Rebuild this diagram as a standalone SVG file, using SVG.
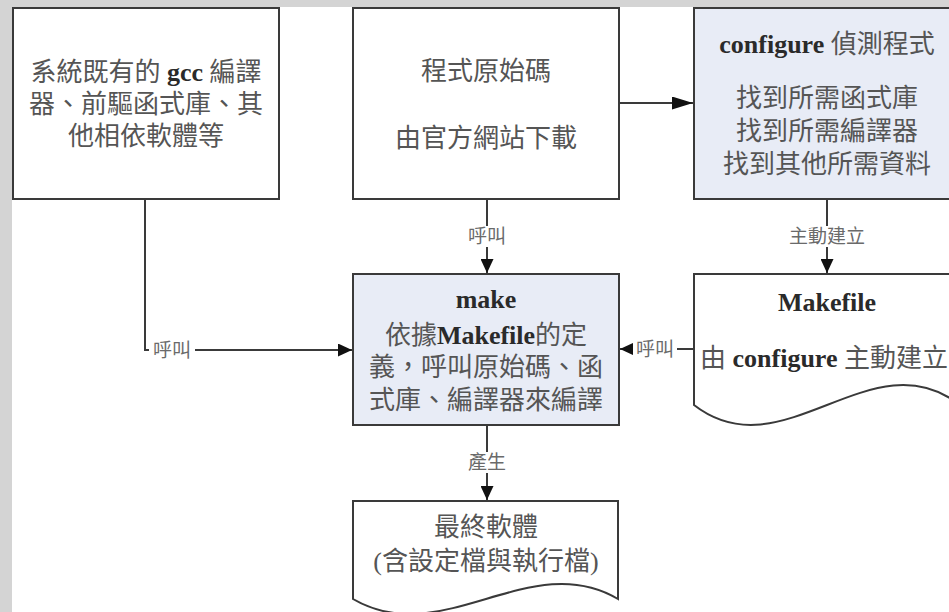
<svg xmlns="http://www.w3.org/2000/svg" width="949" height="612" viewBox="0 0 949 612">
<defs>
<style>
.box{fill:#ffffff;stroke:#3a3a3a;stroke-width:2}
.hl{fill:#e8ecf6}
.t{font-family:'Liberation Serif','Noto Sans CJK TC',serif;font-size:26px;fill:#555555;text-anchor:middle}
.b{font-weight:bold;fill:#2a2a2a}
.lbl{font-family:'Liberation Serif','Noto Sans CJK TC',serif;font-size:19px;fill:#6a6a6a;text-anchor:middle}
.conn{fill:none;stroke:#3a3a3a;stroke-width:2}
.lbg{fill:#ffffff}
</style>
<marker id="arr" viewBox="0 0 14 13" refX="14" refY="6.5" markerWidth="14" markerHeight="13" markerUnits="userSpaceOnUse" orient="auto">
<path d="M0,0 L14,6.5 L0,13 Z" fill="#111"/>
</marker>
<marker id="arrL" viewBox="0 0 21 13" refX="21" refY="6.5" markerWidth="21" markerHeight="13" markerUnits="userSpaceOnUse" orient="auto">
<path d="M0,0 L21,6.5 L0,13 Z" fill="#111"/>
</marker>
</defs>
<rect x="0" y="0" width="949" height="612" fill="#d4d4d4"/>
<rect x="12" y="7" width="937" height="605" fill="#ffffff"/>

<g id="connectors">
<path class="conn" d="M145,199 V350 H352" marker-end="url(#arr)"/>
<path class="conn" d="M487,199 V273" marker-end="url(#arr)"/>
<path class="conn" d="M619,103 H693" marker-end="url(#arrL)"/>
<path class="conn" d="M827,199 V273" marker-end="url(#arr)"/>
<path class="conn" d="M694,349 H620" marker-end="url(#arr)"/>
<path class="conn" d="M487,425 V500" marker-end="url(#arr)"/>
<rect class="lbg" x="465" y="226" width="44" height="21"/>
<text class="lbl" x="487" y="243">呼叫</text>
<rect class="lbg" x="785" y="226" width="84" height="21"/>
<text class="lbl" x="827" y="243">主動建立</text>
<rect class="lbg" x="149" y="339" width="46" height="21"/>
<text class="lbl" x="172" y="357">呼叫</text>
<rect class="lbg" x="633" y="338" width="44" height="21"/>
<text class="lbl" x="655" y="356">呼叫</text>
<rect class="lbg" x="465" y="452" width="44" height="21"/>
<text class="lbl" x="487" y="469">產生</text>
</g>

<g id="existing">
<rect class="box" x="13" y="8" width="266" height="191"/>
<text class="t" x="146" y="81">系統既有的 <tspan class="b">gcc</tspan> 編譯</text>
<text class="t" x="146" y="113">器、前驅函式庫、其</text>
<text class="t" x="146" y="145">他相依軟體等</text>
</g>

<g id="source">
<rect class="box" x="353" y="8" width="266" height="191"/>
<text class="t" x="486" y="80">程式原始碼</text>
<text class="t" x="486" y="147">由官方網站下載</text>
</g>

<g id="configure">
<rect class="box hl" x="694" y="8" width="266" height="191"/>
<text class="t" x="827" y="53"><tspan class="b">configure</tspan> 偵測程式</text>
<text class="t" x="827" y="107">找到所需函式庫</text>
<text class="t" x="827" y="140">找到所需編譯器</text>
<text class="t" x="827" y="173">找到其他所需資料</text>
</g>

<g id="make">
<rect class="box hl" x="353" y="274" width="266" height="151"/>
<text class="t" x="486" y="308"><tspan class="b">make</tspan></text>
<text class="t" x="486" y="344">依據<tspan class="b">Makefile</tspan>的定</text>
<text class="t" x="486" y="376">義，呼叫原始碼、函</text>
<text class="t" x="486" y="409">式庫、編譯器來編譯</text>
</g>

<g id="makefile">
<path class="box" d="M694,274 H960 V405 C871,336 783,474 694,405 Z"/>
<text class="t" x="827" y="311"><tspan class="b">Makefile</tspan></text>
<text class="t" x="824" y="367">由 <tspan class="b">configure</tspan> 主動建立</text>
</g>

<g id="final">
<path class="box" d="M353,501 H618 V599 C530,547 442,651 353,599 Z"/>
<text class="t" x="486" y="536">最終軟體</text>
<text class="t" x="486" y="570">(含設定檔與執行檔)</text>
</g>
</svg>
